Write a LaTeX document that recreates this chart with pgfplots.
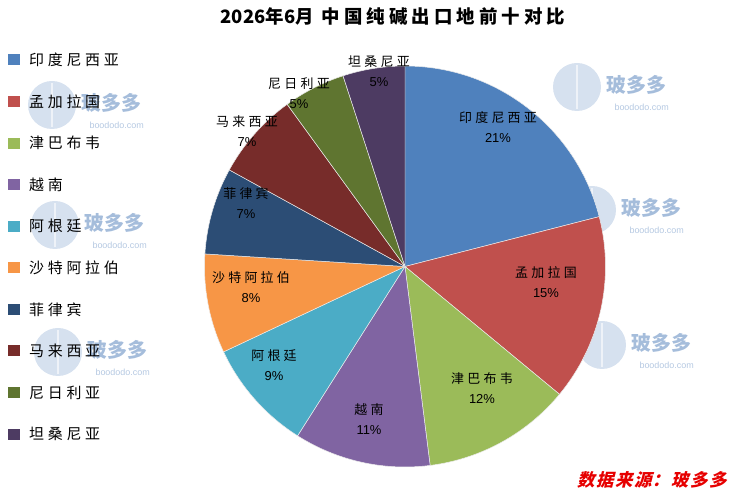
\documentclass[border=0pt]{standalone}
\usepackage{pgfplots}
\pgfplotsset{compat=1.18}
\usepackage{pgfplotstable}
\usepackage{fontspec}
\setmainfont{Liberation Sans}
\newfontfamily\cjk{Noto Sans CJK SC}
\newfontfamily\cjkls[LetterSpace=25]{Noto Sans CJK SC}
\newfontfamily\cjktitle[LetterSpace=22]{Noto Sans CJK SC}
\newfontfamily\cjksrc[FakeSlant=0.25,LetterSpace=8]{Noto Sans CJK SC}
\definecolor{cA}{HTML}{4F81BD}
\definecolor{cB}{HTML}{C0504D}
\definecolor{cC}{HTML}{9BBB59}
\definecolor{cD}{HTML}{8064A2}
\definecolor{cE}{HTML}{4BACC6}
\definecolor{cF}{HTML}{F79646}
\definecolor{cG}{HTML}{2C4D75}
\definecolor{cH}{HTML}{772C2A}
\definecolor{cI}{HTML}{5F7530}
\definecolor{cJ}{HTML}{4D3B62}
\definecolor{wm}{HTML}{5B86BE}
\pgfplotstableread{
name value col lx ly
印度尼西亚 21 cA 498 127
孟加拉国 15 cB 546 282
津巴布韦 12 cC 482 388
越南 11 cD 369 419
阿根廷 9 cE 274 365
沙特阿拉伯 8 cF 251 287
菲律宾 7 cG 246 203
马来西亚 7 cH 247 131
尼日利亚 5 cI 299 93
坦桑尼亚 5 cJ 379 71
}\piedata
\pgfplotstableread{
x y
577 87
592 210
602 345
52 105
55 225
58 352
}\wmdata
\begin{document}
\begin{tikzpicture}
\begin{axis}[
  width=730bp, height=493bp, scale only axis,
  xmin=0, xmax=730, ymin=0, ymax=493,
  hide axis, clip=false,
]
\pgfplotsextra{
  % watermarks
  \foreach \i in {0,...,5}{
    \pgfplotstablegetelem{\i}{x}\of\wmdata \let\wx\pgfplotsretval
    \pgfplotstablegetelem{\i}{y}\of\wmdata \let\wy\pgfplotsretval
    \pgfmathsetmacro\wyy{493-\wy}
    \fill[wm, opacity=0.25] (axis cs:\wx,\wyy) circle[radius=24bp];
    \draw[white, opacity=0.6, line width=1.5pt] (axis cs:\wx,\wyy) ++(0,-22bp) -- ++(0,44bp);
    \node[anchor=west, text=wm, opacity=0.55, font=\cjk\fontsize{20}{20}\selectfont\bfseries] at (axis cs:\wx+26,\wyy+2) {玻多多};
    \node[anchor=west, text=wm, opacity=0.45, font=\fontsize{9}{9}\selectfont] at (axis cs:\wx+34,\wyy-20) {boododo.com};
  }
  % slices
  \gdef\cum{0}
  \foreach \i in {0,...,9}{
    \pgfplotstablegetelem{\i}{value}\of\piedata \let\sv\pgfplotsretval
    \pgfplotstablegetelem{\i}{col}\of\piedata \let\scol\pgfplotsretval
    \pgfmathsetmacro\aS{90-3.6*\cum}
    \pgfmathsetmacro\aE{90-3.6*(\cum+\sv)}
    \fill[\scol, draw=white!85!gray, line width=0.5pt] (axis cs:405,226.5) -- ++(\aS:200.5bp) arc[start angle=\aS, end angle=\aE, radius=200.5bp] -- cycle;
    \pgfmathsetmacro\newcum{\cum+\sv}
    \global\let\cum\newcum
  }
  % slice labels
  \foreach \i in {0,...,9}{
    \pgfplotstablegetelem{\i}{value}\of\piedata \let\sv\pgfplotsretval
    \pgfplotstablegetelem{\i}{name}\of\piedata \let\sname\pgfplotsretval
    \pgfplotstablegetelem{\i}{lx}\of\piedata \let\lx\pgfplotsretval
    \pgfplotstablegetelem{\i}{ly}\of\piedata \let\ly\pgfplotsretval
    \pgfmathsetmacro\lyy{493-\ly}
    \node[align=center, inner sep=0pt, font=\fontsize{13}{20.5}\selectfont] at (axis cs:\lx,\lyy) {{\cjkls\sname}\\\sv\%};
  }
  % legend
  \foreach \i in {0,...,9}{
    \pgfplotstablegetelem{\i}{name}\of\piedata \let\sname\pgfplotsretval
    \pgfplotstablegetelem{\i}{col}\of\piedata \let\scol\pgfplotsretval
    \pgfmathsetmacro\gy{493-60-41.56*\i}
    \fill[\scol] (axis cs:8,\gy-5.5) rectangle (axis cs:19.5,\gy+5.5);
    \node[anchor=west, inner sep=0pt, font=\cjkls\fontsize{15}{15}\selectfont] at (axis cs:29,\gy) {\sname};
  }
  % title
  \node[inner sep=0pt, font=\cjktitle\fontsize{18.5}{18.5}\selectfont\bfseries] at (axis cs:393,477) {{\cjk 2026}年{\cjk 6}月\ 中国纯碱出口地前十对比};
  % source
  \node[anchor=east, inner sep=0pt, text={rgb,255:red,230;green,0;blue,0}, font=\cjksrc\fontsize{17.5}{17.5}\selectfont\bfseries] at (axis cs:727,13) {数据来源：玻多多};
}
\end{axis}
\pgfresetboundingbox
\path (0,0) rectangle (730bp,493bp);
\end{tikzpicture}
\end{document}
